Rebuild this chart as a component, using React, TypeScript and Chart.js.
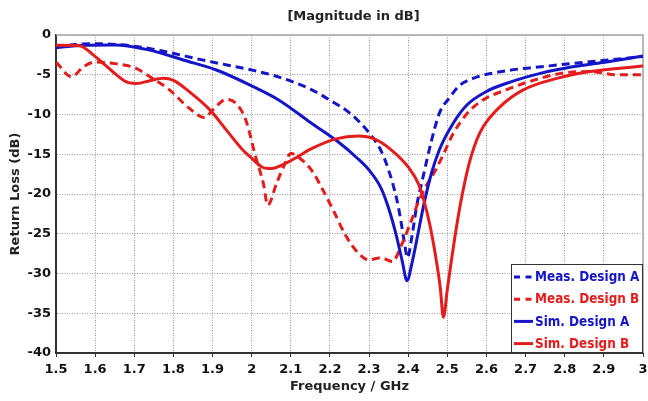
import React, { useEffect, useRef } from "react";
import { Chart, registerables } from "chart.js";

Chart.register(...registerables);

const TITLE = "[Magnitude in dB]";
const X_TITLE = "Frequency / GHz";
const Y_TITLE = "Return Loss (dB)";

const xTicks = [1.5, 1.6, 1.7, 1.8, 1.9, 2, 2.1, 2.2, 2.3, 2.4, 2.5, 2.6, 2.7, 2.8, 2.9, 3];
const yTicks = [0, -5, -10, -15, -20, -25, -30, -35, -40];

const seriesNames = ["Meas. Design A", "Meas. Design B", "Sim. Design A", "Sim. Design B"];

const measAFreq = [1.5, 1.55, 1.6, 1.7, 1.78, 1.87, 1.94, 2.0, 2.07, 2.15, 2.2, 2.25, 2.3, 2.33, 2.35, 2.37, 2.38, 2.39, 2.398, 2.41, 2.422, 2.435, 2.46, 2.48, 2.507, 2.53, 2.566, 2.65, 2.74, 2.82, 2.91, 3.0];
const measAVals = [-1.5, -1.2, -1.1, -1.4, -2.1, -3.1, -3.8, -4.4, -5.3, -6.8, -8.2, -9.8, -12.3, -14.5, -17.0, -20.5, -23, -26, -28, -25.2, -21.4, -18.5, -13.2, -9.8, -7.8, -6.4, -5.45, -4.5, -4.0, -3.57, -3.15, -2.7];

const measBFreq = [1.5, 1.54, 1.57, 1.6, 1.65, 1.7, 1.74, 1.79, 1.84, 1.88, 1.9, 1.935, 1.96, 1.985, 2.01, 2.03, 2.041, 2.064, 2.085, 2.1, 2.123, 2.153, 2.18, 2.21, 2.24, 2.27, 2.3, 2.33, 2.36, 2.383, 2.41, 2.426, 2.447, 2.47, 2.49, 2.515, 2.55, 2.59, 2.65, 2.72, 2.8, 2.87, 2.93, 3.0];
const measBVals = [-3.4, -5.25, -4.0, -3.4, -3.6, -4.1, -5.25, -6.9, -9.2, -10.4, -9.45, -8.1, -8.6, -10.7, -15.3, -18.7, -21.4, -18.6, -16.2, -14.9, -15.5, -17.0, -19.3, -22.2, -25.2, -27.3, -28.3, -28.0, -28.5, -26.4, -23.1, -21.0, -18.9, -17.0, -15.0, -12.4, -9.9, -8.2, -6.9, -5.7, -4.75, -4.6, -5.0, -5.0];

const simAFreq = [1.5, 1.57, 1.65, 1.74, 1.825, 1.91, 2.0, 2.07, 2.15, 2.22, 2.27, 2.3, 2.33, 2.35, 2.37, 2.385, 2.397, 2.41, 2.425, 2.44, 2.46, 2.48, 2.515, 2.55, 2.6, 2.65, 2.74, 2.82, 2.91, 3.0];
const simAVals = [-1.6, -1.3, -1.25, -1.9, -3.15, -4.4, -6.4, -8.2, -11.0, -13.4, -15.5, -17.0, -19.2, -21.8, -25.3, -28.5, -30.9, -28.6, -25.0, -21.3, -17.3, -14.4, -11.1, -8.8, -7.1, -6.1, -4.8, -4.0, -3.36, -2.65];

const simBFreq = [1.5, 1.56, 1.595, 1.64, 1.68, 1.706, 1.74, 1.774, 1.8, 1.84, 1.894, 1.936, 1.98, 2.0, 2.026, 2.05, 2.094, 2.153, 2.213, 2.272, 2.315, 2.358, 2.4, 2.426, 2.44, 2.455, 2.47, 2.482, 2.49, 2.5, 2.51, 2.52, 2.53, 2.54, 2.55, 2.56, 2.575, 2.592, 2.635, 2.694, 2.78, 2.865, 3.0];
const simBVals = [-1.3, -1.35, -2.5, -4.4, -5.9, -6.1, -5.75, -5.45, -5.7, -7.1, -9.45, -12.0, -14.6, -15.5, -16.6, -16.8, -15.95, -14.3, -13.1, -12.7, -13.1, -14.5, -16.6, -18.7, -20.8, -23.8, -27.8, -31.8, -35.5, -32.0, -28.5, -25.2, -22.2, -19.6, -17.3, -15.4, -13.2, -11.5, -9.0, -6.9, -5.45, -4.6, -3.9];

const BLUE = "#1414c8";
const RED = "#e41c1c";
const FONT = "'DejaVu Sans', sans-serif";

const pairs = (xs: number[], ys: number[]) => xs.map((x, i) => ({ x, y: ys[i] }));

const seriesStyles = [
  { color: BLUE, dash: [8, 5] },
  { color: RED, dash: [8, 5] },
  { color: BLUE, dash: [] as number[] },
  { color: RED, dash: [] as number[] },
];

const decorPlugin = {
  id: "decor",
  beforeDraw(chart: any) {
    const { ctx, width, height } = chart;
    ctx.save();
    ctx.fillStyle = "#ffffff";
    ctx.fillRect(0, 0, width, height);
    ctx.restore();
  },
  beforeDatasetsDraw(chart: any) {
    const { ctx, chartArea: a } = chart;
    ctx.save();
    ctx.strokeStyle = "#a8a8a8";
    ctx.lineWidth = 1.5;
    ctx.beginPath();
    ctx.moveTo(a.left, a.top);
    ctx.lineTo(a.right, a.top);
    ctx.lineTo(a.right, a.bottom);
    ctx.stroke();
    ctx.restore();
  },
  afterDraw(chart: any) {
    const { ctx, chartArea: a } = chart;
    ctx.save();
    // title
    ctx.font = `bold 13px ${FONT}`;
    ctx.fillStyle = "#222";
    ctx.textAlign = "center";
    ctx.textBaseline = "middle";
    ctx.fillText(TITLE, (a.left + a.right) / 2 + 4, 17);
    // legend
    const bw = 132;
    const bh = 89;
    const bx = a.right - bw;
    const by = a.bottom - bh;
    ctx.fillStyle = "#ffffff";
    ctx.fillRect(bx, by, bw, bh);
    ctx.strokeStyle = "#333";
    ctx.lineWidth = 1;
    ctx.strokeRect(bx + 0.5, by + 0.5, bw - 1, bh - 1);
    ctx.textAlign = "left";
    ctx.font = `bold 14px ${FONT}`;
    seriesNames.forEach((name, i) => {
      const st = seriesStyles[i];
      const y = by + 13 + i * 22.2;
      ctx.strokeStyle = st.color;
      ctx.lineWidth = 3;
      ctx.setLineDash(st.dash.length ? [6, 5.5] : []);
      ctx.beginPath();
      ctx.moveTo(bx + 3, y);
      ctx.lineTo(bx + 22, y);
      ctx.stroke();
      ctx.setLineDash([]);
      ctx.fillStyle = st.color;
      ctx.save();
      ctx.translate(bx + 24, y + 0.5);
      ctx.scale(0.86, 1);
      ctx.fillText(name, 0, 0);
      ctx.restore();
    });
    ctx.restore();
  },
};

export default function App() {
  const canvasRef = useRef<HTMLCanvasElement | null>(null);

  useEffect(() => {
    if (!canvasRef.current) return;
    const dataSets = [
      pairs(measAFreq, measAVals),
      pairs(measBFreq, measBVals),
      pairs(simAFreq, simAVals),
      pairs(simBFreq, simBVals),
    ];
    const chart = new Chart(canvasRef.current, {
      type: "line",
      data: {
        datasets: dataSets.map((d, i) => ({
          label: seriesNames[i],
          data: d,
          borderColor: seriesStyles[i].color,
          backgroundColor: seriesStyles[i].color,
          borderDash: seriesStyles[i].dash,
          borderWidth: 3,
          pointRadius: 0,
          cubicInterpolationMode: "monotone" as const,
          fill: false,
          order: [3, 2, 1, 0][i],
        })),
      },
      options: {
        responsive: false,
        animation: false,
        layout: { padding: { left: 0, right: 5, top: 35, bottom: 0 } },
        plugins: {
          legend: { display: false },
          tooltip: { enabled: false },
          title: { display: false },
        },
        scales: {
          x: {
            type: "linear",
            min: 1.5,
            max: 3,
            afterFit: (s: any) => {
              s.height = 48;
              s.paddingLeft = 0;
              s.paddingRight = 0;
            },
            afterBuildTicks: (s: any) => {
              s.ticks = xTicks.map((v) => ({ value: v }));
            },
            ticks: {
              autoSkip: false,
              maxRotation: 0,
              padding: 5,
              color: "#111",
              font: { family: FONT, size: 13, weight: "bold" },
              callback: (v: any) => String(Number(Number(v).toFixed(1))),
            },
            grid: {
              color: "#969696",
              lineWidth: 1,
              drawTicks: true,
              tickLength: 4,
              tickColor: "#333",
              tickWidth: 1,
            },
            border: { display: true, color: "#333", width: 2, dash: [1, 1.5] },
            title: {
              display: true,
              text: X_TITLE,
              color: "#222",
              font: { family: FONT, size: 13, weight: "bold" },
              padding: { top: 0, bottom: 7 },
            },
          },
          y: {
            type: "linear",
            min: -40,
            max: 0,
            afterFit: (s: any) => {
              s.width = 56;
              s.paddingTop = 0;
              s.paddingBottom = 0;
            },
            afterBuildTicks: (s: any) => {
              s.ticks = yTicks.map((v) => ({ value: v }));
            },
            ticks: {
              padding: 5,
              color: "#111",
              font: { family: FONT, size: 13, weight: "bold" },
              callback: (v: any) => String(v),
            },
            grid: {
              color: "#969696",
              lineWidth: 1,
              drawTicks: false,
            },
            border: { display: true, color: "#333", width: 2, dash: [1, 1.5] },
            title: {
              display: true,
              text: Y_TITLE,
              color: "#222",
              font: { family: FONT, size: 13, weight: "bold" },
              padding: { top: 8, bottom: 0 },
            },
          },
        },
      },
      plugins: [decorPlugin],
    });
    return () => chart.destroy();
  }, []);

  return (
    <div style={{ position: "fixed", left: 0, top: 0, width: 648, height: 401, background: "#fff" }}>
      <canvas ref={canvasRef} width={648} height={401} style={{ display: "block" }} />
    </div>
  );
}
